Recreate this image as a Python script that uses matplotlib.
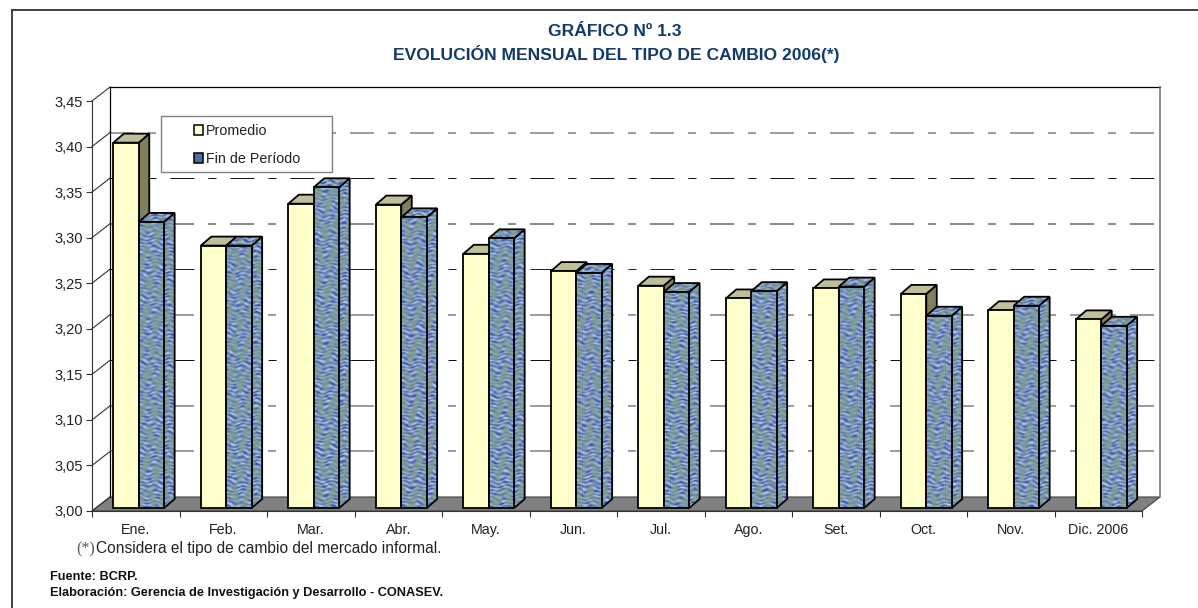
import matplotlib
matplotlib.use('Agg')
import matplotlib.pyplot as plt
import numpy as np
from matplotlib.lines import Line2D
from matplotlib.patches import Patch, Polygon, Rectangle
from matplotlib.transforms import Affine2D

plt.rcParams['font.family'] = ['Liberation Sans', 'DejaVu Sans']

months = ['Ene.', 'Feb.', 'Mar.', 'Abr.', 'May.', 'Jun.', 'Jul.', 'Ago.', 'Set.', 'Oct.', 'Nov.', 'Dic. 2006']
promedio = [3.401, 3.288, 3.334, 3.333, 3.279, 3.260, 3.244, 3.230, 3.241, 3.235, 3.217, 3.207]
fin_periodo = [3.314, 3.288, 3.352, 3.319, 3.296, 3.258, 3.237, 3.238, 3.243, 3.211, 3.222, 3.200]
y_ticks = [3.00, 3.05, 3.10, 3.15, 3.20, 3.25, 3.30, 3.35, 3.40, 3.45]
y_min, y_max = 3.00, 3.45

W, H = 1198, 608
fig = plt.figure(figsize=(W / 100, H / 100), dpi=100, facecolor='white')


def px_box(x0, y0, x1, y1):
    return [x0 / W, 1 - y1 / H, (x1 - x0) / W, (y1 - y0) / H]


ax = fig.add_axes(px_box(92, 101, 1142, 511))
ax.set_facecolor('none')
ax.set_xlim(0, 12)
ax.set_ylim(y_min, y_max)

# pixel sizes turned into data units
ux = 12 / 1050
uy = (y_max - y_min) / 410
wall_dx, wall_dy = 18 * ux, 14 * uy
bar_dx, bar_dy = 10.5 * ux, 9 * uy
bar_w = 25.4 * ux
shift = ax.transData + Affine2D().translate(3, 3)

ink = '#222222'

# walls and floor
back = [(wall_dx, y_min + wall_dy), (12 + wall_dx, y_min + wall_dy),
        (12 + wall_dx, y_max + wall_dy), (wall_dx, y_max + wall_dy)]
ax.add_patch(Polygon(back, fc='white', ec='none', zorder=1, clip_on=False))
floor = [(0, y_min), (12, y_min), (12 + wall_dx, y_min + wall_dy), (wall_dx, y_min + wall_dy)]
ax.add_patch(Polygon(floor, fc='#808080', ec='#404040', lw=0.8, zorder=2, clip_on=False))

# the source alternates crisp black and soft grey rules
grid_styles = ['#808080', '#808080', '#111111', '#808080', '#222222', '#6a6a6a', '#111111', '#808080']
dash = (0, (24, 14, 8, 14))
for v, col in zip(y_ticks[1:-1], grid_styles):
    soft = col in ('#808080', '#6a6a6a')
    lw = 1.1 if soft else 0.72
    pattern = (0, tuple(d * 0.72 / lw for d in dash[1]))
    ax.add_line(Line2D([wall_dx, 12 + wall_dx], [v + wall_dy] * 2, color=col, lw=lw,
                       ls=pattern, dash_capstyle='butt', zorder=2, clip_on=False))
for v in y_ticks:
    ax.add_line(Line2D([0, wall_dx], [v, v + wall_dy], color='#333333', lw=0.8, zorder=2, clip_on=False))
ax.add_line(Line2D([wall_dx, wall_dx], [y_min + wall_dy, y_max + wall_dy], color='black', lw=0.9, zorder=3, clip_on=False))
ax.add_line(Line2D([wall_dx, 12 + wall_dx], [y_max + wall_dy] * 2, color='black', lw=0.9, zorder=3, clip_on=False))
ax.add_line(Line2D([12 + wall_dx] * 2, [y_min + wall_dy, y_max + wall_dy], color='#707070', lw=1.1, zorder=3, clip_on=False))

# mottled fill of the second series
yy, xx = np.mgrid[0:410, 0:1050].astype(float)
wave = (np.sin(yy * 1.53 + 1.6 * np.sin(xx * 0.43) + 1.4 * np.sin(xx * 0.173 + yy * 0.29))
        + 0.5 * np.sin(xx * 0.71 + 2.6 * np.sin(yy * 0.37))
        + 0.4 * np.sin(xx * 0.29 - yy * 0.83))
band = np.sin(yy * 0.21 + 1.5 * np.sin(xx * 0.37)) + 0.7 * np.sin(xx * 0.53 + yy * 0.083)
c_blue = np.array([58, 88, 165]) / 255
c_light = np.array([178, 200, 222]) / 255
c_green = np.array([128, 158, 146]) / 255
mix = np.clip((wave + 1.4) / 2.8, 0, 1)[..., None]
tex = c_blue * (1 - mix) + c_light * mix
green = np.clip(band * 0.45 + 0.3, 0, 0.75)[..., None]
tex = tex * (1 - green) + c_green * green


def textured(poly):
    im = ax.imshow(tex, extent=(0, 12, y_min, y_max), aspect='auto', interpolation='bilinear',
                   zorder=poly.get_zorder() - 0.05)
    poly.set_facecolor('none')
    ax.add_patch(poly)
    im.set_clip_path(poly)


def draw_series(values, offset, front, side, top, label, base_z):
    x_pos = np.arange(12) + 0.5 + offset
    bars = ax.bar(x_pos, np.array(values) - y_min, bottom=y_min, width=bar_w, align='edge',
                  color=front, edgecolor='black', linewidth=1.3, transform=shift, label=label)
    for i, (rect, v) in enumerate(zip(bars, values)):
        z = base_z + i * 2
        x0 = rect.get_x()
        x1 = x0 + bar_w
        s = Polygon([(x1, y_min), (x1, v), (x1 + bar_dx, v + bar_dy), (x1 + bar_dx, y_min + bar_dy)],
                    ec='black', lw=1.3, fc=side or 'none', transform=shift, zorder=z)
        t = Polygon([(x0, v), (x1, v), (x1 + bar_dx, v + bar_dy), (x0 + bar_dx, v + bar_dy)],
                    ec='black', lw=1.3, fc=top or 'none', transform=shift, zorder=z + 0.2)
        rect.set_zorder(z + 0.4)
        if front == 'none':
            face = Rectangle((x0, y_min), bar_w, v - y_min, ec='none', fc='none', transform=shift, zorder=z + 0.35)
            textured(face)
            textured(s)
            textured(t)
        else:
            ax.add_patch(s)
            ax.add_patch(t)
    return bars


draw_series(promedio, -bar_w, '#FFFFCC', '#80805F', '#BFBF99', 'Promedio', 10)
draw_series(fin_periodo, 0, 'none', None, None, 'Fin de Período', 11)
ax.set_xlim(0, 12)
ax.set_ylim(y_min, y_max)

# axes
for name in ['top', 'right']:
    ax.spines[name].set_visible(False)
ax.spines['left'].set_linewidth(0.8)
ax.spines['bottom'].set_linewidth(0.8)
ax.spines['left'].set_color('#333333')
ax.spines['bottom'].set_color('#333333')
ax.set_yticks(y_ticks)
ax.set_yticklabels([('%.2f' % v).replace('.', ',') for v in y_ticks])
ax.set_xticks(np.arange(13))
ax.set_xticklabels([])
ax.set_xticks(np.arange(12) + 0.5, minor=True)
ax.set_xticklabels(months, minor=True, va='baseline')
ax.tick_params(axis='y', length=4.5, width=0.8, color='#333333', labelsize=10.5, labelcolor=ink, pad=2)
ax.tick_params(axis='x', which='major', length=4.5, width=0.8, color='#333333')
ax.tick_params(axis='x', which='minor', length=0, labelsize=10.3, labelcolor=ink, pad=16.5)

# legend
ax.add_patch(Rectangle((161, H - 172), 171, 56, transform=None, fc='white', ec='#808080', lw=1.0, zorder=40))
handles = [Patch(fc='#FFFFCC', ec='black', lw=1.1), Patch(fc='#4A6EA8', ec='black', lw=1.1)]
leg = ax.legend(handles, ['Promedio', 'Fin de Período'], loc='upper left', frameon=False, fontsize=10.3,
                bbox_to_anchor=(194 / W, 1 - 124 / H), bbox_transform=fig.transFigure,
                borderpad=0, borderaxespad=0, handlelength=0.66, handleheight=0.66,
                handletextpad=0.15, labelspacing=1.0, labelcolor=ink)
leg.set_zorder(41)

# title and notes
navy = '#123A6B'
fig.text(615 / W, 1 - 31 / H, 'GRÁFICO Nº 1.3', ha='center', va='center', fontsize=12.6, fontweight='bold', color=navy)
fig.text(616 / W, 1 - 54 / H, 'EVOLUCIÓN MENSUAL DEL TIPO DE CAMBIO 2006(*)', ha='center', va='center',
         fontsize=12.6, fontweight='bold', color=navy)
fig.text(76 / W, 1 - 549 / H, '(*)', ha='left', va='center', fontsize=11.5, color='#555555', family='Liberation Serif')
fig.text(96 / W, 1 - 549 / H, 'Considera el tipo de cambio del mercado informal.', ha='left', va='center',
         fontsize=11.2, color=ink)
fig.text(50 / W, 1 - 577 / H, 'Fuente: BCRP.', ha='left', va='center', fontsize=9.2, fontweight='bold', color='#111111')
fig.text(50 / W, 1 - 593 / H, 'Elaboración: Gerencia de Investigación y Desarrollo - CONASEV.', ha='left', va='center',
         fontsize=9.2, fontweight='bold', color='#111111')

# outer frame, open at the right and the bottom
fig.add_artist(Line2D([12 / W, 12 / W], [0, 1 - 10 / H], color='#333333', lw=1.3))
fig.add_artist(Line2D([12 / W, 1], [1 - 10 / H, 1 - 10 / H], color='#333333', lw=1.3))

fig.savefig('out.png', dpi=100)
